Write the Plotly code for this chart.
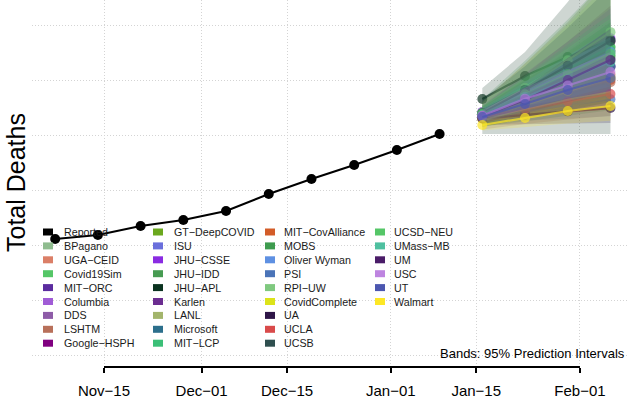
import plotly.graph_objects as go

# ---------------- data ----------------
reported_dates = ["2020-11-07", "2020-11-14", "2020-11-21", "2020-11-28", "2020-12-05",
                  "2020-12-12", "2020-12-19", "2020-12-26", "2021-01-02", "2021-01-09"]
reported_deaths = [6109, 6182, 6345, 6455, 6618, 6927, 7200, 7455, 7727, 8018]

forecast_dates = ["2021-01-16", "2021-01-23", "2021-01-30", "2021-02-06"]

models = ["BPagano", "UGA\u2212CEID", "Covid19Sim", "MIT\u2212ORC", "Columbia", "DDS", "LSHTM",
          "Google\u2212HSPH", "GT\u2212DeepCOVID", "ISU", "JHU\u2212CSSE", "JHU\u2212IDD", "JHU\u2212APL",
          "Karlen", "LANL", "Microsoft", "MIT\u2212LCP", "MIT\u2212CovAlliance", "MOBS",
          "Oliver Wyman", "PSI", "RPI\u2212UW", "CovidComplete", "UA", "UCLA", "UCSB",
          "UCSD\u2212NEU", "UMass\u2212MB", "UM", "USC", "UT", "Walmart"]

model_colors = ["#8FBC8F", "#DB7F67", "#55C667", "#5B2C9F", "#A05CD6", "#8E5CA8", "#B8705A",
                "#800080", "#6BA81E", "#6A6FDC", "#8A2BE2", "#479B52", "#0B3320",
                "#6B2D90", "#A3B56C", "#2C6F8C", "#3BBF77", "#D35C28", "#3E9B4F",
                "#5E90E2", "#4B74B8", "#7FC97F", "#DCE319", "#2E1547", "#D94A4A", "#2F4F4F",
                "#55C667", "#4FC0A0", "#4A1C68", "#BE84E0", "#4C57B0", "#FDE725"]

model_median = [
    [8360, 8660, 8960, 9250], [8330, 8600, 8860, 9100], [8380, 8720, 9080, 9450],
    [8350, 8650, 8950, 9230], [8340, 8640, 8950, 9260], [8320, 8580, 8830, 9060],
    [8300, 8540, 8760, 8960], [8400, 8820, 9260, 9700], [8370, 8760, 9160, 9600],
    [8330, 8560, 8790, 9010], [8420, 8860, 9300, 9760], [8390, 8760, 9150, 9540],
    [8655, 9073, 9418, 9727], [8360, 8700, 9040, 9380], [8380, 8760, 9140, 9520],
    [8340, 8650, 8950, 9250], [8400, 8800, 9200, 9600], [8310, 8560, 8790, 9000],
    [8370, 8720, 9070, 9420], [8390, 8770, 9140, 9510], [8320, 8430, 8540, 8650],
    [8410, 8860, 9360, 9870], [8300, 8550, 8800, 9040], [8300, 8370, 8430, 8490],
    [8330, 8470, 8610, 8745], [8400, 8820, 9260, 9710], [8380, 8740, 9110, 9480],
    [8360, 8690, 9010, 9330], [8345, 8636, 9000, 9364], [8350, 8660, 8900, 9145],
    [8327, 8564, 8818, 9036], [8182, 8309, 8436, 8527]]

model_lower = [
    [8200, 8350, 8450, 8550], [8220, 8400, 8560, 8700], [8250, 8450, 8650, 8850],
    [8260, 8470, 8680, 8880], [8180, 8300, 8420, 8520], [8180, 8330, 8460, 8580],
    [8100, 8200, 8280, 8350], [8280, 8550, 8800, 9050], [8150, 8300, 8450, 8600],
    [8250, 8400, 8530, 8650], [8300, 8600, 8900, 9200], [8150, 8250, 8350, 8450],
    [8020, 8020, 8020, 8020], [8280, 8530, 8780, 9020], [8150, 8300, 8420, 8550],
    [8200, 8380, 8550, 8700], [8280, 8520, 8760, 9000], [8220, 8390, 8540, 8680],
    [8230, 8430, 8620, 8800], [8290, 8570, 8840, 9100], [8200, 8260, 8300, 8340],
    [8250, 8500, 8750, 9000], [8200, 8370, 8520, 8660], [8180, 8200, 8210, 8220],
    [8250, 8330, 8400, 8470], [8150, 8300, 8450, 8600], [8230, 8440, 8640, 8840],
    [8250, 8470, 8680, 8880], [8220, 8400, 8600, 8800], [8250, 8460, 8620, 8780],
    [8230, 8380, 8540, 8690], [8080, 8150, 8210, 8260]]

model_upper = [
    [8520, 8980, 9480, 9980], [8440, 8800, 9160, 9500], [8510, 8990, 9500, 10050],
    [8440, 8830, 9220, 9600], [8500, 9000, 9550, 10100], [8460, 8830, 9220, 9600],
    [8500, 8880, 9250, 9600], [8520, 9100, 9700, 10350], [8600, 9300, 10050, 10900],
    [8420, 8730, 9060, 9380], [8540, 9120, 9700, 10300], [8650, 9350, 10100, 10900],
    [8855, 9510, 10420, 11400], [8440, 8870, 9300, 9740], [8600, 9300, 10000, 10800],
    [8480, 8920, 9350, 9800], [8520, 9080, 9650, 10200], [8400, 8730, 9040, 9330],
    [8510, 9010, 9520, 10040], [8490, 8970, 9440, 9920], [8440, 8600, 8780, 8960],
    [8580, 9250, 10000, 10800], [8400, 8730, 9080, 9420], [8420, 8540, 8650, 8760],
    [8410, 8610, 8820, 9020], [8650, 9250, 9950, 10700], [8530, 9040, 9580, 10120],
    [8470, 8910, 9340, 9780], [8470, 8870, 9400, 9930], [8450, 8860, 9180, 9510],
    [8420, 8750, 9100, 9380], [8290, 8470, 8660, 8800]]

tick_dates = ["2020-11-15", "2020-12-01", "2020-12-15", "2021-01-01", "2021-01-15", "2021-02-01"]
tick_labels = ["Nov\u221215", "Dec\u221201", "Dec\u221215", "Jan\u221201", "Jan\u221215", "Feb\u221201"]

# ---------------- figure ----------------
FONT = "Liberation Sans, Arial, Helvetica, sans-serif"
W, H = 628, 402
ML, MT, MB = 32, 0, 35
PW, PH = W - ML, H - MT - MB


def hex_rgba(h, a):
    h = h.lstrip("#")
    return "rgba(%d,%d,%d,%.3f)" % (int(h[0:2], 16), int(h[2:4], 16), int(h[4:6], 16), a)


def pxx(px):
    return (px - ML) / PW


def pyy(py):
    return (H - MB - py) / PH


fig = go.Figure()

# each model: band then median line (later bands veil earlier lines)
for name, col, lo, hi, med in zip(models, model_colors, model_lower, model_upper, model_median):
    fig.add_trace(go.Scatter(
        x=forecast_dates + forecast_dates[::-1],
        y=hi + lo[::-1],
        fill="toself", fillcolor=hex_rgba(col, 0.2),
        line=dict(width=0), mode="lines", hoverinfo="skip", showlegend=False))
    fig.add_trace(go.Scatter(
        x=forecast_dates, y=med, mode="lines+markers", name=name,
        line=dict(color=hex_rgba(col, 0.7), width=2.2),
        marker=dict(color=hex_rgba(col, 0.7), size=10),
        showlegend=False))

# reported
fig.add_trace(go.Scatter(
    x=reported_dates, y=reported_deaths, mode="lines+markers", name="Reported",
    line=dict(color="black", width=2), marker=dict(color="black", size=10),
    showlegend=False))

shapes = []
annotations = []

# x axis line (from first to last tick)
shapes.append(dict(type="line", xref="x", yref="paper", x0=tick_dates[0], x1=tick_dates[-1],
                   y0=0, y1=0, line=dict(color="black", width=2)))

# legend (4 columns, column-major)
legend_names = ["Reported"] + models
legend_cols = ["#000000"] + model_colors
col_sw = [43, 153, 265, 375]
col_tx = [62, 172, 282, 392]
row0, dy = 232, 13.9
for i, (nm, c) in enumerate(zip(legend_names, legend_cols)):
    ci, ri = i // 9, i % 9
    cy = row0 + ri * dy
    shapes.append(dict(type="rect", xref="paper", yref="paper",
                       x0=pxx(col_sw[ci]), x1=pxx(col_sw[ci] + 10),
                       y0=pyy(cy + 3.5), y1=pyy(cy - 3.5),
                       fillcolor=c, line=dict(width=0), layer="above"))
    annotations.append(dict(xref="paper", yref="paper", x=pxx(col_tx[ci]), y=pyy(cy),
                            xanchor="left", yanchor="middle", text=nm, showarrow=False,
                            font=dict(family=FONT, size=10.7, color="#1a1a1a")))

# y title
annotations.append(dict(xref="paper", yref="paper", x=pxx(16), y=pyy(183), text="Total Deaths",
                        textangle=-90, showarrow=False, xanchor="center", yanchor="middle",
                        font=dict(family=FONT, size=25, color="black")))
# bands note
annotations.append(dict(xref="paper", yref="paper", x=pxx(627), y=pyy(353),
                        text="Bands: 95% Prediction Intervals", showarrow=False,
                        xanchor="right", yanchor="middle",
                        font=dict(family=FONT, size=13, color="black")))

fig.update_layout(
    width=W, height=H, margin=dict(l=ML, r=0, t=MT, b=MB),
    paper_bgcolor="white", plot_bgcolor="white",
    showlegend=False, shapes=shapes, annotations=annotations,
    font=dict(family=FONT),
    xaxis=dict(type="date", range=["2020-11-03 04:48", "2021-02-08 21:00"],
               tickvals=tick_dates, ticktext=tick_labels,
               showgrid=True, gridcolor="#d4d4d4", griddash="1px,2px", gridwidth=1,
               ticks="outside", ticklen=5, tickwidth=2, tickcolor="black",
               ticklabelstandoff=5,
               tickfont=dict(family=FONT, size=15, color="black"),
               showline=False, zeroline=False),
    yaxis=dict(range=[4000 - 12 / 55 * 1000, 10000 + 25 / 55 * 1000], dtick=1000, tick0=0,
               showgrid=True, gridcolor="#d4d4d4", griddash="1px,2px", gridwidth=1,
               showticklabels=False, ticks="", showline=False, zeroline=False),
)

fig.write_html("out.html", config={"displayModeBar": False},
               post_script="document.body.style.margin='0';")
